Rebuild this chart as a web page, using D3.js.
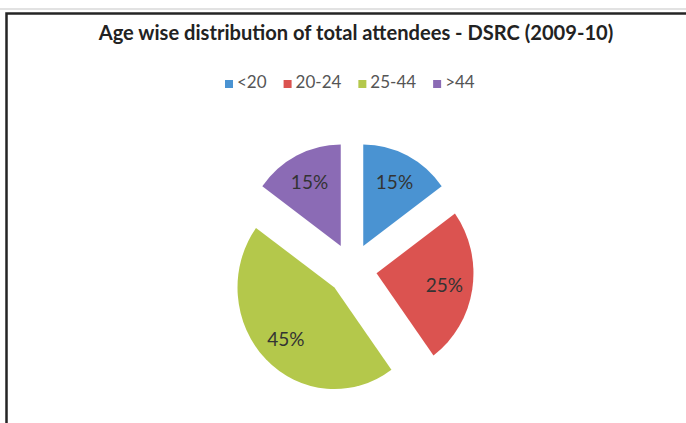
<!DOCTYPE html>
<html>
<head>
<meta charset="utf-8">
<script src="https://cdn.jsdelivr.net/npm/d3@7"></script>
<style>
  html, body { margin: 0; padding: 0; background: #ffffff; overflow: hidden; }
  svg { display: block; }
</style>
</head>
<body>
<svg id="chart" width="686" height="423"></svg>
<script>
// ---- data ----
const title = "Age wise distribution of total attendees - DSRC (2009-10)";
const categories = ["<20", "20-24", "25-44", ">44"];
const values = [15, 25, 45, 15];
const labels = ["15%", "25%", "45%", "15%"];
const colors = ["#4a93d2", "#db5350", "#b4c84b", "#8b6bb5"];

// ---- layout ----
const W = 686, H = 423;
const svg = d3.select("#chart");
const fontFamily = "Lato, 'Open Sans', 'DejaVu Sans', sans-serif";

svg.append("rect").attr("x", 0).attr("y", 0).attr("width", W).attr("height", H).attr("fill", "#ffffff");
// faint line at the very top
svg.append("line").attr("x1", 0).attr("x2", W).attr("y1", 9).attr("y2", 9)
  .attr("stroke", "#e2e2e2").attr("stroke-width", 2);
// chart frame (extends beyond right/bottom)
svg.append("rect").attr("x", 6.5).attr("y", 13.5).attr("width", W + 20).attr("height", H + 20)
  .attr("fill", "#ffffff").attr("stroke", "#252525").attr("stroke-width", 2.5);

// title, fitted to the reference width
const titleEl = svg.append("text")
  .attr("x", 356).attr("y", 40)
  .attr("text-anchor", "middle")
  .attr("font-family", fontFamily)
  .attr("font-weight", "bold")
  .attr("font-size", 20)
  .attr("fill", "#222222")
  .text(title);
{
  const w = titleEl.node().getComputedTextLength();
  const fs = 20 * 515 / w;
  titleEl.attr("font-size", Math.min(fs, 22));
}

// legend
const legend = svg.append("g");
let lx = 225;
const legendY = 88;
categories.forEach((c, i) => {
  legend.append("rect").attr("x", lx).attr("y", legendY - 8).attr("width", 8).attr("height", 8)
    .attr("fill", colors[i]);
  const t = legend.append("text")
    .attr("x", lx + 12).attr("y", legendY)
    .attr("font-family", fontFamily)
    .attr("font-size", 17)
    .attr("fill", "#555555")
    .text(c);
  lx += 12 + t.node().getComputedTextLength() + 17;
});

// pie
const cx = 352, cy = 269.2, R = 101.5, sx = 0.955, explode = 26, labelR = 72;
const pie = d3.pie().sort(null).value(d => d).startAngle(0).endAngle(2 * Math.PI);
const arcs = pie(values);
const arcGen = d3.arc().innerRadius(0).outerRadius(R);

const pieG = svg.append("g");
arcs.forEach((a, i) => {
  const mid = (a.startAngle + a.endAngle) / 2;
  const ox = cx + Math.sin(mid) * explode * sx;
  const oy = cy - Math.cos(mid) * explode;
  pieG.append("path")
    .attr("transform", `translate(${ox},${oy}) scale(${sx},1)`)
    .attr("d", arcGen(a))
    .attr("fill", colors[i]);
  pieG.append("text")
    .attr("x", ox + Math.sin(mid) * labelR * sx)
    .attr("y", oy - Math.cos(mid) * labelR)
    .attr("text-anchor", "middle")
    .attr("dominant-baseline", "central")
    .attr("font-family", fontFamily)
    .attr("font-size", 19)
    .attr("fill", "#333333")
    .text(labels[i]);
});
</script>
</body>
</html>
